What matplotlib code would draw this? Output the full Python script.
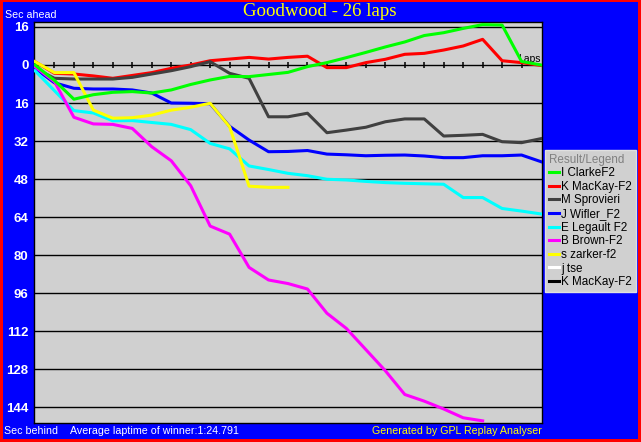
import matplotlib.pyplot as plt
from matplotlib.patches import Rectangle
from matplotlib.lines import Line2D

# gap to the winner's average pace (sec), one value per lap
clarke = [0, 6.5, 14.4, 12.5, 11.5, 11.2, 11.8, 10.5, 8.2, 6.3, 4.8, 4.9, 4.0, 3.1, 0.7,
          -1.0, -3.1, -5.3, -7.6, -9.7, -12.4, -13.6, -15.4, -17.0, -16.8, -1.5, 0]
mackay = [-1.4, 3.5, 3.8, 4.6, 5.6, 4.4, 3.2, 1.4, 0.0, -1.8, -2.5, -3.2, -2.5, -3.2, -3.7,
          1.1, 1.1, -1.0, -2.4, -4.5, -4.9, -6.3, -8.0, -10.8, -1.8, -1.0, 0.2]
sprovieri = [1.4, 5.6, 5.9, 5.9, 5.9, 5.2, 3.8, 2.4, 0.7, -1.4, 3.5, 5.6, 21.8, 21.8, 20.3,
             28.5, 27.4, 26.2, 23.9, 22.7, 22.7, 29.9, 29.6, 29.2, 32.3, 32.7, 31.0]
wifler = [1.4, 7.5, 9.8, 10.1, 10.1, 10.5, 11.8, 16.0, 16.1, 16.3, 25.8, 31.6, 36.5, 36.4, 36.0,
          37.5, 37.8, 38.2, 38.0, 37.9, 38.3, 39.0, 39.0, 38.2, 38.2, 37.9, 40.7]
legault = [2.4, 10.8, 19.2, 20.2, 23.5, 23.4, 24.2, 25.0, 27.2, 33.0, 35.3, 42.5, 44.0, 45.6, 46.6,
           48.1, 48.4, 49.0, 49.5, 49.8, 50.0, 50.2, 55.8, 55.8, 60.4, 61.5, 62.7]
brown = [0.7, 7.0, 22.0, 24.8, 25.0, 26.7, 34.4, 40.3, 50.8, 67.8, 71.2, 85.2, 90.5, 92.0, 94.3,
         104.5, 110.9, 119.8, 128.7, 138.7, 141.5, 144.8, 148.5, 149.8]
zarker = [-1.4, 3.2, 3.2, 19.0, 22.4, 22.2, 21.1, 19.0, 17.8, 16.1, 26.0, 51.0, 51.5, 51.5]

drivers = ["I ClarkeF2", "K MacKay-F2", "M Sprovieri", "J Wifler_F2", "E Legault F2",
           "B Brown-F2", "s zarker-f2", "j tse", "K MacKay-F2"]
colors = ["#00ff00", "#ff0000", "#404040", "#0000ff", "#00ffff",
          "#ff00ff", "#ffff00", "#ffffff", "#000000"]
series = [clarke, mackay, sprovieri, wifler, legault, brown, zarker, [], []]

n_laps = 26
y_ticks = [-16, 0, 16, 32, 48, 64, 80, 96, 112, 128, 144]

W, H = 641, 442
fig = plt.figure(figsize=(W / 100, H / 100), dpi=100)
fig.patch.set_facecolor("#ff0000")
fig.patches.append(Rectangle((3 / W, 3 / H), (W - 6) / W, (H - 5) / H,
                             transform=fig.transFigure, facecolor="#0000ff",
                             edgecolor="none", zorder=-5))

ax = fig.add_axes([34 / W, (H - 423) / H, (542 - 34) / W, (423 - 22) / H])
ax.set_zorder(2)
ax.set_facecolor("#d0d0d0")
for s in ax.spines.values():
    s.set_color("black")
    s.set_linewidth(1)

for yv in y_ticks:
    ax.axhline(yv, color="black", lw=1.0, zorder=1)

# lap ticks on the zero line
ax.plot(range(1, n_laps), [0] * (n_laps - 1), linestyle="none", marker="|",
        ms=5, mew=1.1, color="black", zorder=1)
ax.text(n_laps, -0.6, "Laps", ha="right", va="bottom", fontsize=7.5,
        family="Liberation Sans", color="black", zorder=1)

handles = []
for i, (name, col, vals) in enumerate(zip(drivers, colors, series)):
    z = 10 if i == 0 else 3 + i * 0.1
    ax.plot(range(len(vals)), vals, color=col, lw=2.2, zorder=z)
    handles.append(Line2D([], [], color=col, lw=2.2))

ax.set_xlim(-0.05, n_laps + 0.05)
ax.set_ylim(150.7, -18.1)
ax.set_xticks([])
ax.set_yticks(y_ticks)
ax.set_yticklabels([str(abs(v)) for v in y_ticks])
ax.tick_params(axis="y", length=0, pad=4, labelcolor="white")
for lb in ax.get_yticklabels():
    lb.set_fontfamily("Liberation Sans")
    lb.set_fontweight("bold")
    lb.set_fontsize(9.5)

fig.text(320 / W, 1 - 11.5 / H, "Goodwood - 26 laps", ha="center", va="center",
         color="#ffff00", fontsize=13.6, family="Liberation Serif")
small = dict(fontsize=7.7, family="Liberation Sans", va="center")
fig.text(5 / W, 1 - 15.5 / H, "Sec ahead", color="white", ha="left", **small)
fig.text(4 / W, 1 - 431 / H, "Sec behind", color="white", ha="left", **small)
fig.text(70 / W, 1 - 431 / H, "Average laptime of winner:1:24.791", color="white",
         ha="left", **small)
fig.text(542 / W, 1 - 431 / H, "Generated by GPL Replay Analyser", color="#ffff00",
         ha="right", **small)

leg = fig.legend(handles, drivers, loc="upper left",
                 bbox_to_anchor=(545 / W, 1 - 150 / H), borderaxespad=0,
                 title="Result/Legend", alignment="left", frameon=True,
                 fancybox=False, facecolor="#d0d0d0", edgecolor="#e0e0e0",
                 framealpha=1, handlelength=0.9, handletextpad=0.2,
                 labelspacing=0.14, borderpad=0.3,
                 prop={"family": "Liberation Sans", "size": 8.4},
                 title_fontproperties={"family": "Liberation Sans", "size": 8.4})
leg.get_title().set_color("#808080")

fig.savefig("out.png", dpi=100, facecolor=fig.get_facecolor())
